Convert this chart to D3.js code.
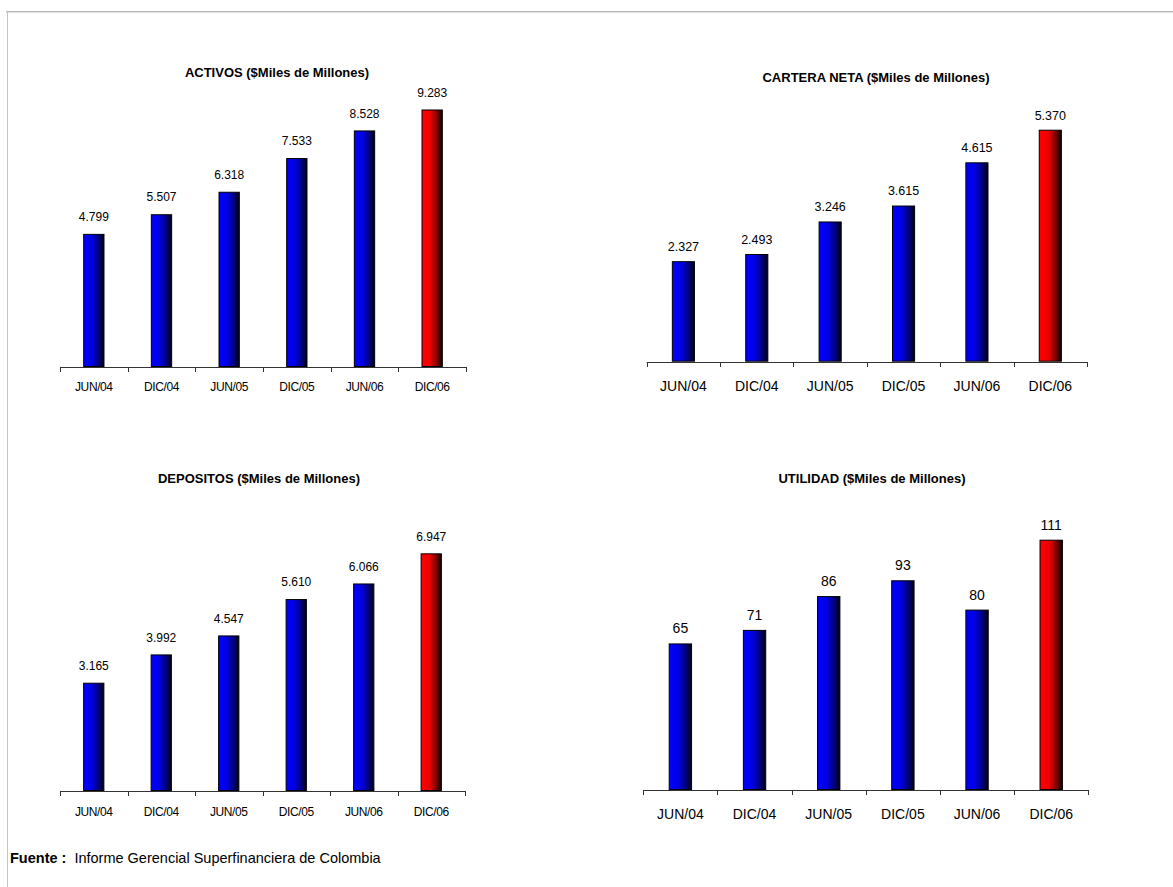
<!DOCTYPE html>
<html>
<head>
<meta charset="utf-8">
<script src="https://cdn.jsdelivr.net/npm/d3@7"></script>
<style>
  html, body { margin: 0; padding: 0; background: #ffffff; }
  svg { display: block; font-family: "Liberation Sans", Arial, sans-serif; }
</style>
</head>
<body>
<svg id="chart" width="1173" height="887"></svg>
<script>
// ---------- DATA ----------
const categories = ["JUN/04", "DIC/04", "JUN/05", "DIC/05", "JUN/06", "DIC/06"];
const activos    = [4799, 5507, 6318, 7533, 8528, 9283];
const cartera    = [2327, 2493, 3246, 3615, 4615, 5370];
const depositos  = [3165, 3992, 4547, 5610, 6066, 6947];
const utilidad   = [65, 71, 86, 93, 80, 111];
const titles = [
  "ACTIVOS ($Miles de Millones)",
  "CARTERA NETA ($Miles de Millones)",
  "DEPOSITOS ($Miles de Millones)",
  "UTILIDAD ($Miles de Millones)"
];
const yMax = [10000, 6000, 8000, 120];
const highlightCategory = "DIC/06";
const sourceLabel = "Fuente :";
const sourceText = "Informe Gerencial Superfinanciera de Colombia";

// ---------- SETUP ----------
const svg = d3.select("#chart");
const locale = d3.formatLocale({ decimal: ",", thousands: ".", grouping: [3], currency: ["$", ""] });
const fmt = locale.format(",d");

// frame lines
svg.append("line").attr("x1", 6).attr("x2", 1173).attr("y1", 11.5).attr("y2", 11.5)
  .attr("stroke", "#b8b8b8").attr("stroke-width", 1);
svg.append("line").attr("x1", 6).attr("x2", 1173).attr("y1", 12.5).attr("y2", 12.5)
  .attr("stroke", "#e0e0e0").attr("stroke-width", 1);
svg.append("line").attr("x1", 7.5).attr("x2", 7.5).attr("y1", 11).attr("y2", 887)
  .attr("stroke", "#c4c4c4").attr("stroke-width", 1);

// gradients
const defs = svg.append("defs");
function grad(id, stops) {
  const g = defs.append("linearGradient").attr("id", id)
    .attr("x1", "0%").attr("x2", "100%").attr("y1", "0%").attr("y2", "0%");
  stops.forEach(s => g.append("stop").attr("offset", s[0]).attr("stop-color", s[1]));
}
grad("gBlue", [["0%", "#0000ff"], ["40%", "#0000e4"], ["78%", "#000070"], ["100%", "#000008"]]);
grad("gRed",  [["0%", "#ff0000"], ["40%", "#f00000"], ["78%", "#700000"], ["100%", "#080000"]]);

const panels = [
  { values: activos,   title: titles[0], max: yMax[0], x0: 60,    x1: 466,    base: 367,   titleX: 277, titleY: 72,  valFont: 12,   catFont: 12, catLS: -0.4, valOff: 17,   catOff: 20 },
  { values: cartera,   title: titles[1], max: yMax[1], x0: 646.7, x1: 1087,   base: 361.7, titleX: 876, titleY: 77,  valFont: 12.5, catFont: 14, catLS: 0,    valOff: 14.5, catOff: 24 },
  { values: depositos, title: titles[2], max: yMax[2], x0: 60,    x1: 465,    base: 791,   titleX: 259, titleY: 478, valFont: 12,   catFont: 12, catLS: -0.4, valOff: 17,   catOff: 21 },
  { values: utilidad,  title: titles[3], max: yMax[3], x0: 643.3, x1: 1088.3, base: 790,   titleX: 872, titleY: 478, valFont: 14,   catFont: 14, catLS: 0,    valOff: 15,   catOff: 24 }
];
// pixel heights for each panel's full y-domain
const plotHeights = [277.4, 259.2, 273.7, 270.6];

panels.forEach((p, pi) => {
  const g = svg.append("g");
  const x = d3.scaleBand().domain(categories).range([p.x0, p.x1])
    .paddingInner(0.685).paddingOuter(0.3425);
  const y = d3.scaleLinear().domain([0, p.max]).range([p.base, p.base - plotHeights[pi]]);
  const step = x.step();

  // title
  g.append("text").attr("x", p.titleX).attr("y", p.titleY).attr("dy", "0.35em")
    .attr("text-anchor", "middle").attr("font-weight", "bold").attr("font-size", 13)
    .attr("fill", "#000").text(p.title);

  // bars
  const data = categories.map((c, i) => ({ c, v: p.values[i] }));
  g.selectAll("rect.bar").data(data).enter().append("rect")
    .attr("class", "bar")
    .attr("x", d => x(d.c) + 0.5)
    .attr("y", d => y(d.v) + 0.5)
    .attr("width", x.bandwidth() - 1)
    .attr("height", d => y(0) - y(d.v) - 1)
    .attr("fill", d => d.c === highlightCategory ? "url(#gRed)" : "url(#gBlue)")
    .attr("stroke", "#000").attr("stroke-width", 1);

  // value labels
  g.selectAll("text.val").data(data).enter().append("text")
    .attr("class", "val")
    .attr("x", d => x(d.c) + x.bandwidth() / 2)
    .attr("y", d => y(d.v) - p.valOff).attr("dy", "0.35em")
    .attr("text-anchor", "middle").attr("font-size", p.valFont).attr("fill", "#000")
    .text(d => fmt(d.v));

  // axis line
  g.append("line").attr("x1", p.x0).attr("x2", p.x1)
    .attr("y1", Math.round(p.base) + 0.5).attr("y2", Math.round(p.base) + 0.5)
    .attr("stroke", "#333").attr("stroke-width", 1);
  // boundary ticks
  const tickPos = d3.range(categories.length + 1).map(i => p.x0 + i * step);
  g.selectAll("line.tick").data(tickPos).enter().append("line")
    .attr("class", "tick")
    .attr("x1", d => Math.round(d) + 0.5).attr("x2", d => Math.round(d) + 0.5)
    .attr("y1", Math.round(p.base)).attr("y2", Math.round(p.base) + 5)
    .attr("stroke", "#333").attr("stroke-width", 1);

  // category labels
  g.selectAll("text.cat").data(categories).enter().append("text")
    .attr("class", "cat")
    .attr("x", d => x(d) + x.bandwidth() / 2)
    .attr("y", p.base + p.catOff).attr("dy", "0.35em")
    .attr("text-anchor", "middle").attr("font-size", p.catFont)
    .attr("letter-spacing", p.catLS).attr("fill", "#000")
    .text(d => d);
});

// source note
const src = svg.append("text").attr("x", 10).attr("y", 858).attr("dy", "0.35em")
  .attr("font-size", 14.5).attr("fill", "#000");
src.append("tspan").attr("font-weight", "bold").text(sourceLabel);
src.append("tspan").attr("dx", 8).text(sourceText);
</script>
</body>
</html>
